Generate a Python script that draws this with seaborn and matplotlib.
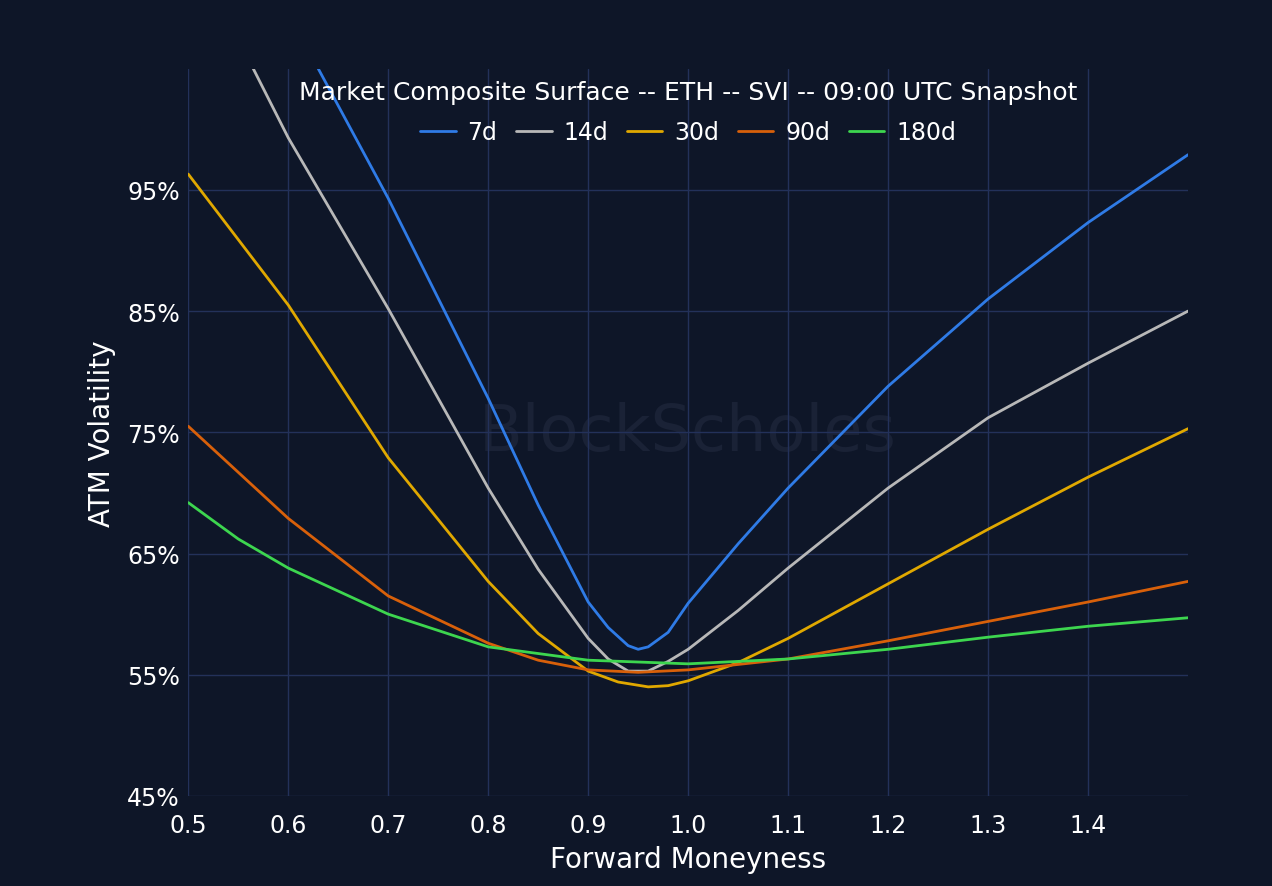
import numpy as np
import pandas as pd
import seaborn as sb
import matplotlib.pyplot as plt

sb.set_theme(style="dark")
plt.rcParams['font.family'] = ['DejaVu Sans']

tenors = ["7d", "14d", "30d", "90d", "180d"]
colors = ["#2f7be6", "#b8b8b8", "#e0a800", "#d8600a", "#3dd64f"]

x_7d = [0.63, 0.7, 0.8, 0.85, 0.9, 0.92, 0.94, 0.95, 0.96, 0.98, 1.0, 1.05, 1.1, 1.2, 1.3, 1.4, 1.5]
y_7d = [105, 94.3, 77.8, 69.0, 61.0, 58.9, 57.4, 57.1, 57.3, 58.5, 60.9, 65.8, 70.4, 78.8, 86.0, 92.3, 97.9]
x_14d = [0.565, 0.6, 0.7, 0.8, 0.85, 0.9, 0.92, 0.94, 0.96, 0.98, 1.0, 1.05, 1.1, 1.2, 1.3, 1.4, 1.5]
y_14d = [105, 99.3, 85.2, 70.4, 63.7, 58.0, 56.3, 55.3, 55.3, 56.1, 57.1, 60.3, 63.8, 70.4, 76.2, 80.7, 85.0]
x_30d = [0.5, 0.6, 0.7, 0.8, 0.85, 0.9, 0.93, 0.96, 0.98, 1.0, 1.05, 1.1, 1.2, 1.3, 1.4, 1.5]
y_30d = [96.3, 85.5, 72.9, 62.7, 58.4, 55.3, 54.4, 54.0, 54.1, 54.5, 56.0, 58.0, 62.5, 67.0, 71.3, 75.3]
x_90d = [0.5, 0.6, 0.7, 0.8, 0.85, 0.9, 0.95, 1.0, 1.1, 1.2, 1.3, 1.4, 1.5]
y_90d = [75.5, 67.9, 61.5, 57.6, 56.2, 55.4, 55.2, 55.4, 56.3, 57.8, 59.4, 61.0, 62.7]
x_180d = [0.5, 0.55, 0.6, 0.7, 0.8, 0.9, 1.0, 1.1, 1.2, 1.3, 1.4, 1.5]
y_180d = [69.2, 66.2, 63.8, 60.0, 57.3, 56.2, 55.9, 56.3, 57.1, 58.1, 59.0, 59.7]

xs = [x_7d, x_14d, x_30d, x_90d, x_180d]
ys = [y_7d, y_14d, y_30d, y_90d, y_180d]
df = pd.concat([pd.DataFrame({"m": x, "v": y, "tenor": t}) for x, y, t in zip(xs, ys, tenors)])

bg = "#0e1628"
fig = plt.figure(figsize=(12.72, 8.87), dpi=100, facecolor=bg)
ax = fig.add_axes([0.148, 0.1015, 0.786, 0.82])
ax.set_facecolor(bg)
sb.lineplot(data=df, x="m", y="v", hue="tenor", palette=colors, sort=False, estimator=None, lw=2, ax=ax)

ax.set_xlim(0.5, 1.5)
ax.set_ylim(45, 105)
ax.set_xticks([0.5, 0.6, 0.7, 0.8, 0.9, 1.0, 1.1, 1.2, 1.3, 1.4])
ax.set_yticks([45, 55, 65, 75, 85, 95])
ax.set_yticklabels([f"{v}%" for v in [45, 55, 65, 75, 85, 95]])
ax.tick_params(colors="white", labelsize=17, length=0)
ax.tick_params(axis="x", pad=12)
ax.tick_params(axis="y", pad=6)
ax.grid(True, color="#23315a", lw=1)
for s in ax.spines.values():
    s.set_visible(False)
ax.set_xlabel("Forward Moneyness", color="white", fontsize=20, labelpad=6)
ax.set_ylabel("ATM Volatility", color="white", fontsize=20, labelpad=8)

ax.text(0.5, 0.5, "BlockScholes", transform=ax.transAxes, ha="center", va="center",
        fontsize=46, color="#1a2236", zorder=0)
ax.text(0.5, 0.968, "Market Composite Surface -- ETH -- SVI -- 09:00 UTC Snapshot",
        transform=ax.transAxes, ha="center", va="center", color="white", fontsize=18)
leg = ax.legend(loc="center", bbox_to_anchor=(0.5, 0.913), ncol=5, frameon=False,
                fontsize=17, handlelength=1.5, columnspacing=0.8, handletextpad=0.5)
for t in leg.get_texts():
    t.set_color("white")

plt.savefig("out.png", dpi=100, facecolor=bg)
